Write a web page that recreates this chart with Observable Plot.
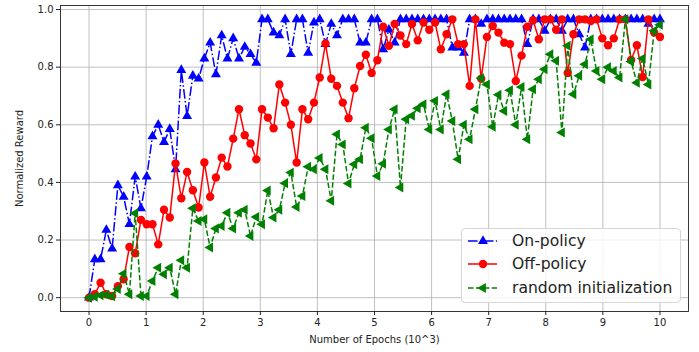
<!DOCTYPE html>
<html><head><meta charset="utf-8">
<script src="https://cdn.jsdelivr.net/npm/d3@7"></script>
<script src="https://cdn.jsdelivr.net/npm/@observablehq/plot@0.6"></script>
<style>
html,body{margin:0;padding:0;background:#fff;}
#wrap{position:relative;width:699px;height:352px;font-family:"DejaVu Sans",sans-serif;}
#legend{position:absolute;left:461px;top:228px;width:220px;height:75px;border:1px solid #d6d6d6;border-radius:4px;background:rgba(255,255,255,0.8);box-sizing:border-box;}
.lrow{position:absolute;left:0;height:22px;display:flex;align-items:center;}
.lrow svg{display:block;}
.lrow span{font-size:15.6px;color:#222;white-space:nowrap;}
</style></head><body><div id="wrap"></div><script>
const seriesNames = ["On-policy", "Off-policy", "random initialization"];
const seriesColors = ["#0000ff", "#ff0000", "#008000"];
const xTicks = [0,1,2,3,4,5,6,7,8,9,10];
const yTicks = [0,0.2,0.4,0.6,0.8,1.0];
const nPoints = 100;
const onPolicy = [0,0.133,0.133,0.235,0.17,0.39,0.35,0.255,0.42,0.31,
0.42,0.56,0.60,0.54,0.585,0.445,0.79,0.63,0.77,0.76,
0.83,0.885,0.775,0.91,0.83,0.90,0.83,0.87,0.845,0.815,
0.966,0.966,0.92,0.91,0.966,0.845,0.966,0.966,0.85,0.955,
0.966,0.88,0.95,0.91,0.966,0.966,0.966,0.885,0.885,0.966,
0.966,0.862,0.93,0.885,0.966,0.966,0.966,0.966,0.966,0.966,
0.966,0.966,0.966,0.868,0.868,0.85,0.966,0.966,0.95,0.966,
0.966,0.966,0.966,0.966,0.966,0.966,0.88,0.966,0.966,0.926,
0.966,0.966,0.926,0.966,0.966,0.914,0.868,0.966,0.966,0.966,
0.966,0.966,0.966,0.966,0.966,0.966,0.966,0.95,0.966,0.966];
const offPolicy = [0,0.012,0.052,0.012,0.006,0.04,0.064,0.176,0.154,0.27,
0.255,0.255,0.185,0.305,0.278,0.466,0.345,0.436,0.373,0.313,
0.469,0.35,0.417,0.486,0.455,0.552,0.654,0.564,0.535,0.48,
0.654,0.625,0.588,0.74,0.677,0.60,0.469,0.654,0.619,0.677,
0.764,0.882,0.76,0.735,0.677,0.623,0.727,0.804,0.843,0.78,
0.824,0.94,0.874,0.95,0.91,0.88,0.95,0.893,0.955,0.93,
0.955,0.862,0.914,0.966,0.88,0.88,0.735,0.966,0.76,0.905,
0.943,0.92,0.885,0.88,0.752,0.84,0.94,0.963,0.897,0.966,
0.966,0.93,0.966,0.78,0.914,0.966,0.966,0.96,0.966,0.90,
0.876,0.90,0.966,0.966,0.825,0.876,0.766,0.966,0.92,0.905];
const randomInit = [0,0.003,0.008,0.01,0.005,0.03,0.083,0.012,0.293,0.006,
0.006,0.058,0.104,0.081,0.104,0.012,0.13,0.104,0.31,0.266,
0.272,0.174,0.24,0.249,0.295,0.24,0.295,0.305,0.214,0.28,
0.255,0.372,0.278,0.305,0.397,0.434,0.315,0.353,0.454,0.446,
0.485,0.446,0.336,0.567,0.532,0.396,0.463,0.48,0.59,0.553,
0.422,0.465,0.584,0.654,0.382,0.619,0.631,0.657,0.671,0.584,
0.683,0.584,0.706,0.613,0.48,0.60,0.55,0.654,0.762,0.74,
0.593,0.704,0.648,0.72,0.60,0.731,0.55,0.723,0.758,0.793,
0.845,0.822,0.573,0.874,0.706,0.77,0.81,0.897,0.787,0.758,
0.80,0.787,0.764,0.966,0.82,0.746,0.83,0.74,0.926,0.947];

// epochs on linspace(0, 10, 100) (x-axis positions, in 10^3 epochs)
const epochs = d3.range(nPoints).map(i => i * 10 / (nPoints - 1));

const triangleLeft = {
  draw(context, size) {
    const y = -Math.sqrt(size / (Math.sqrt(3) * 3));
    context.moveTo(2 * y, 0);
    context.lineTo(-y, -Math.sqrt(3) * y);
    context.lineTo(-y, Math.sqrt(3) * y);
    context.closePath();
  }
};
const seriesValues = [onPolicy, offPolicy, randomInit];
const seriesDash = ["9.6,2.4,1.5,2.4", null, "5.5,2.4"];
const seriesSymbol = ["triangle", "circle", triangleLeft];
const seriesR = [3.7, 4.2, 3.7];

const marks = [
  Plot.gridX(xTicks, {stroke: "#b0b0b0", strokeOpacity: 1, strokeWidth: 0.8}),
  Plot.gridY(yTicks, {stroke: "#b0b0b0", strokeOpacity: 1, strokeWidth: 0.8}),
  Plot.axisX(xTicks, {tickSize: 4, tickPadding: 3, tickFormat: d => String(d), label: "Number of Epochs (10^3)", labelAnchor: "center", labelArrow: "none", labelOffset: 31}),
  Plot.axisY(yTicks, {tickSize: 4, tickPadding: 3, tickFormat: d3.format(".1f"), label: "Normalized Reward", labelAnchor: "center", labelArrow: "none", labelOffset: 45})
];
seriesValues.forEach((vals, k) => {
  marks.push(Plot.line(vals, {x: epochs, y: vals, stroke: seriesColors[k], strokeWidth: 1.5, strokeLinecap: "butt", strokeDasharray: seriesDash[k] || undefined}));
  marks.push(Plot.dot(vals, {x: epochs, y: vals, symbol: seriesSymbol[k], r: seriesR[k], fill: seriesColors[k], stroke: "none"}));
});
marks.push(Plot.frame({stroke: "#222", strokeWidth: 0.9}));

const chart = Plot.plot({
  width: 699, height: 352,
  marginLeft: 60, marginRight: 11, marginTop: 5, marginBottom: 41,
  x: {domain: [-0.5, 10.5]},
  y: {domain: [-0.048, 1.014]},
  style: {fontFamily: "DejaVu Sans, sans-serif", fontSize: "10px", color: "#222", background: "#fff"},
  marks
});
const wrap = document.getElementById("wrap");
wrap.appendChild(chart);

// legend
const legend = document.createElement("div");
legend.id = "legend";
seriesNames.forEach((name, k) => {
  const row = document.createElement("div");
  row.className = "lrow";
  row.style.top = (1 + k * 23.3) + "px";
  const svg = d3.create("svg").attr("width", 42).attr("height", 22);
  svg.append("line").attr("x1", 6).attr("x2", 35).attr("y1", 11).attr("y2", 11)
    .attr("stroke", seriesColors[k]).attr("stroke-width", 1.5)
    .attr("stroke-dasharray", seriesDash[k] ? seriesDash[k] : null);
  const sym = typeof seriesSymbol[k] === "string" ? (seriesSymbol[k] === "triangle" ? d3.symbolTriangle : d3.symbolCircle) : seriesSymbol[k];
  svg.append("path").attr("transform", "translate(21,11)")
    .attr("d", d3.symbol(sym, Math.PI * seriesR[k] * seriesR[k])())
    .attr("fill", seriesColors[k]);
  row.appendChild(svg.node());
  const span = document.createElement("span");
  span.textContent = name;
  span.style.marginLeft = "8px";
  row.appendChild(span);
  legend.appendChild(row);
});
wrap.appendChild(legend);
</script></body></html>
